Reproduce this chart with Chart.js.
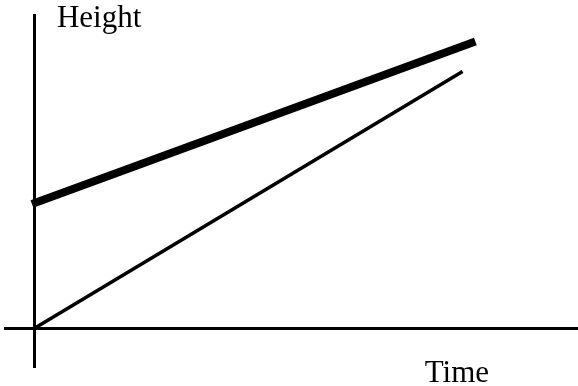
<!DOCTYPE html>
<html lang="en">
<head>
<meta charset="UTF-8">
<title>Height vs Time</title>
<script src="https://cdn.jsdelivr.net/npm/chart.js"></script>
<style>
  html, body { margin: 0; padding: 0; background: #fff; }
  #wrap { width: 578px; height: 386px; }
</style>
</head>
<body>
<div id="wrap"><canvas id="chart"></canvas></div>
<script>
// two straight lines, end points
const timeThick = [-0.07, 10.3];
const heightThick = [2.9, 6.7];
const timeThin = [0, 10];
const heightThin = [0, 6];

const xLabel = 'Time';
const yLabel = 'Height';

function toPoints(xs, ys) {
    return xs.map((v, i) => ({ x: v, y: ys[i] }));
}

// axis names drawn next to the axes
const axisLabels = {
    id: 'axisLabels',
    afterDraw(chart) {
        const { ctx, scales: { x } } = chart;
        ctx.save();
        ctx.fillStyle = '#000';
        ctx.font = '31px "Liberation Serif", "Times New Roman", serif';
        ctx.textBaseline = 'alphabetic';
        ctx.textAlign = 'left';
        ctx.fillText(yLabel, x.getPixelForValue(0) + 22, 27);
        ctx.textAlign = 'right';
        ctx.fillText(xLabel, 489, 382);
        ctx.restore();
    }
};

const hiddenAxis = (pos, min, max) => ({
    type: 'linear',
    min: min,
    max: max,
    position: pos,
    grid: { display: false, drawTicks: false },
    ticks: { display: false },
    border: { display: true, color: '#000', width: 3 }
});

new Chart(document.getElementById('chart'), {
    type: 'line',
    data: {
        datasets: [{
            label: 'thick',
            data: toPoints(timeThick, heightThick),
            borderColor: '#000',
            borderWidth: 8,
            pointRadius: 0
        }, {
            label: 'thin',
            data: toPoints(timeThin, heightThin),
            borderColor: '#000',
            borderWidth: 3.5,
            pointRadius: 0
        }]
    },
    options: {
        responsive: true,
        maintainAspectRatio: false,
        animation: false,
        layout: { padding: { left: 5, right: 0, top: 15, bottom: 19 } },
        plugins: { legend: { display: false }, tooltip: { enabled: false } },
        scales: {
            x: hiddenAxis({ y: 0 }, -0.7, 12.7),
            y: hiddenAxis({ x: 0 }, -0.91, 7.32)
        }
    },
    plugins: [axisLabels]
});
</script>
</body>
</html>
